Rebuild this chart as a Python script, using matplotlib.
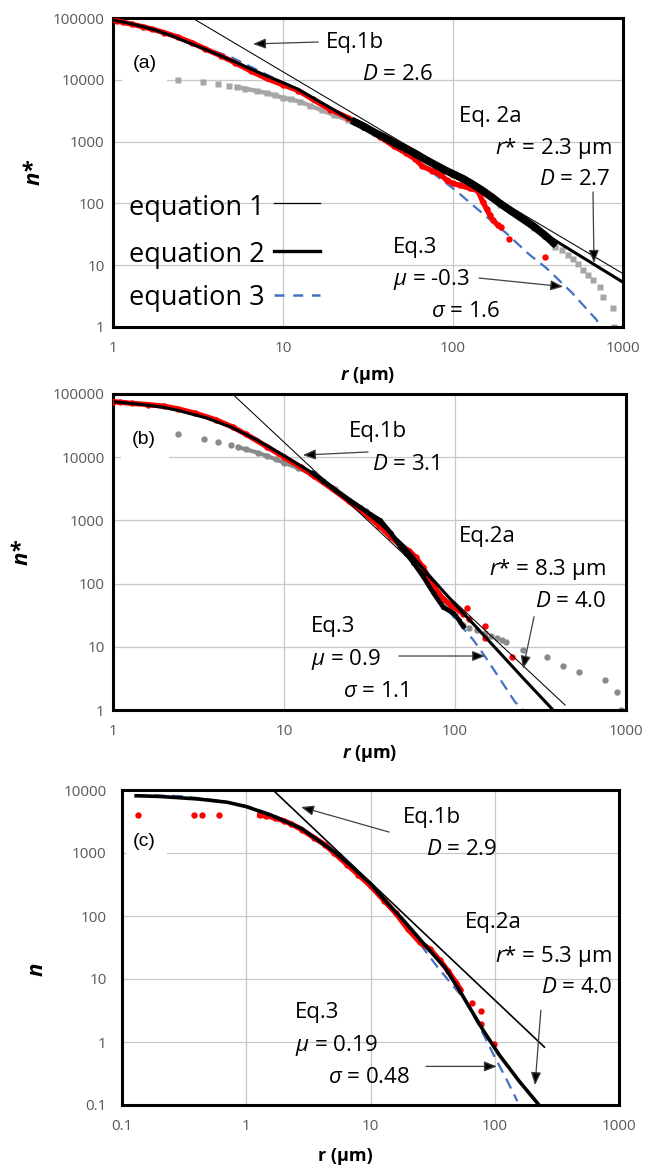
import matplotlib
matplotlib.use('Agg')
import matplotlib.pyplot as plt
from matplotlib.patches import Rectangle

plt.rcParams['font.family'] = ['Open Sans', 'DejaVu Sans']
plt.rcParams['mathtext.fontset'] = 'custom'
plt.rcParams['mathtext.rm'] = 'Open Sans'
plt.rcParams['mathtext.it'] = 'Open Sans:italic'
plt.rcParams['mathtext.bf'] = 'Open Sans:bold'
plt.rcParams['mathtext.bfit'] = 'Open Sans:italic:bold'

# ---------- panel (a) ----------
eq1_a_r = [2.93, 1000]
eq1_a_n = [100000, 7.3]
eq2_a_r = [1.02, 1.3, 1.7, 2.2, 2.65, 3.5, 5.2, 7.5, 10, 12.3, 17, 26.5, 53, 100, 189, 400, 1000]
eq2_a_n = [92000, 80000, 66000, 52000, 42000, 31000, 19600, 12500, 9000, 7000, 4200, 2075, 770, 300, 98, 25, 5.3]
eq3_a_r = [1, 2, 5, 10, 20, 40, 60, 80, 100, 110, 150, 207, 280, 356, 500, 700, 735]
eq3_a_n = [95000, 58000, 23000, 9000, 3100, 1100, 520, 280, 175, 141, 68, 32.5, 15, 8.9, 3.6, 1.3, 1.0]
red_a_r = [1.0, 1.05, 1.15, 1.3, 1.5, 1.7, 2.0, 2.4, 2.9, 3.5, 4.3, 5.2, 6.5, 8, 10, 12.3, 15, 19, 24,
           30, 37, 45, 53, 60, 66, 75, 85, 92, 100, 110, 126, 140, 150, 158, 165, 172, 183, 191]
red_a_n = [95000, 90000, 85000, 79000, 72000, 66000, 58000, 49000, 40000, 31500, 24500, 19000, 13800,
           10500, 8300, 6700, 4800, 3300, 2450, 1750, 1200, 840, 650, 520, 400, 340, 290, 235, 210, 195,
           175, 160, 105, 80, 64, 53, 45, 41]
red_a_sparse_r = [214, 348]
red_a_sparse_n = [27, 13.8]
black_a_r = [26.5, 30, 35, 40, 47, 53, 60, 70, 80, 90, 100, 115, 130, 150, 170, 189, 220, 260, 300, 350, 390]
black_a_n = [2075, 1750, 1380, 1150, 900, 770, 640, 500, 410, 345, 300, 250, 205, 160, 125, 100, 75, 55,
             42, 30, 23]
gray_a_r = [2.4, 3.4, 4.15, 4.8, 5.35, 6, 7, 8, 9, 10, 11.2, 12.6, 14.5, 17, 20, 24, 30, 40, 60, 100,
            189, 300, 398, 436, 477, 510, 546, 584, 625, 669, 732, 766, 870, 885]
gray_a_n = [10000, 9100, 8500, 7900, 7600, 7200, 6600, 6100, 5600, 5100, 4800, 4420, 3800, 3200, 2700,
            2250, 1750, 1150, 620, 290, 95, 40, 19.5, 17.4, 14.5, 12.8, 10.6, 8.3, 6.9, 5.7, 4.5, 3.1,
            2.0, 1.0]

# ---------- panel (b) ----------
eq1_b_r = [5.0, 440]
eq1_b_n = [100000, 1.2]
eq2_b_r = [1.03, 1.5, 2.0, 2.4, 3.5, 4.9, 7, 10, 14.7, 20, 28, 37, 50, 62, 80, 100, 130, 167, 250, 367, 380]
eq2_b_n = [75000, 68000, 61000, 55000, 42000, 30000, 18500, 10600, 5600, 3000, 1600, 870, 400, 200, 92,
           47, 22, 10.5, 3.2, 1.06, 0.95]
eq3_b_r = [1, 2, 4, 7, 10, 15, 20, 30, 45, 60, 75, 85.5, 100, 128, 150, 183, 224, 255]
eq3_b_n = [75000, 62000, 40000, 19500, 10500, 5200, 3000, 1300, 480, 190, 80, 46, 28, 12.8, 7, 3.1, 1.35, 0.95]
red_b_r = [1.0, 1.1, 1.3, 1.6, 2.0, 2.4, 3.0, 4.0, 5.0, 6.0, 8.0, 10, 12.5, 15, 19, 24, 30, 36, 42, 48,
           54, 59, 65, 75, 85, 95, 105, 112]
red_b_n = [76000, 74000, 71000, 68000, 64000, 58000, 50000, 39000, 30000, 23000, 14500, 10000, 7000,
           5000, 3200, 2000, 1250, 820, 550, 400, 330, 260, 180, 89, 58, 45, 38, 33]
red_b_sparse_r = [117, 120, 150, 150, 214]
red_b_sparse_n = [40.5, 28, 21, 13.6, 7.0]
black_b_r = [14.7, 17, 20, 24, 28, 32, 36.6, 42, 47.7, 52, 57, 65, 75, 85.5, 98, 105, 112]
black_b_n = [5600, 4200, 3000, 2100, 1600, 1250, 1000, 640, 390, 295, 215, 130, 70, 42, 34, 27, 21]
gray_b_r = [2.4, 3.4, 4.1, 4.9, 5.4, 6.0, 7.0, 8.0, 9.0, 10, 12, 14.3, 17, 20, 30, 50, 80, 100, 112, 120,
            134, 150, 163, 175, 188, 200, 251, 344, 430, 530, 754, 883, 930]
gray_b_n = [23500, 19500, 17700, 15600, 14400, 13300, 11800, 10400, 9200, 8200, 6800, 5500, 4200, 3100,
            1400, 360, 70, 32, 22, 19.6, 18.4, 16.5, 15, 13.6, 12.8, 12, 8.9, 7.0, 5.0, 4.0, 3.0, 1.95, 1.0]

# ---------- panel (c) ----------
eq1_c_r = [1.64, 251]
eq1_c_n = [10000, 0.83]
eq2_c_r = [0.13, 0.2, 0.41, 0.7, 1.0, 1.58, 2.77, 5.1, 7, 10, 12.9, 18, 28, 40, 52, 80, 109, 157, 227]
eq2_c_n = [8100, 7900, 7200, 6400, 5450, 4000, 2460, 1050, 620, 325, 182, 90, 33, 15, 6.6, 1.58, 0.62,
           0.24, 0.1]
eq3_c_r = [0.13, 0.3, 0.6, 1.0, 1.6, 2.8, 5.1, 10, 20, 35, 57, 75, 99, 125, 152]
eq3_c_n = [8300, 8000, 6800, 5600, 4100, 2500, 1050, 320, 65, 15, 4.75, 1.8, 0.6, 0.25, 0.115]
red_c_r = [1.28, 1.45, 1.7, 2.0, 2.3, 2.8, 3.5, 4.3, 5.1, 6.5, 8, 10, 12.9, 16, 20, 25, 30, 36, 42, 49, 53]
red_c_n = [4000, 3900, 3600, 3250, 2900, 2350, 1750, 1350, 1000, 650, 450, 300, 175, 110, 62, 38, 30,
           20, 13.5, 8.7, 6.8]
red_c_sparse_r = [0.134, 0.38, 0.44, 0.6, 66, 77.5, 77.5, 98]
red_c_sparse_n = [4000, 4000, 4000, 4000, 4.2, 3.1, 1.9, 0.93]

ticks_r = [1, 10, 100, 1000]
ticks_n = [1, 10, 100, 1000, 10000, 100000]
ticks_r_c = [0.1, 1, 10, 100, 1000]
ticks_n_c = [0.1, 1, 10, 100, 1000, 10000]

BLUE = '#4472c4'
ANN = 16


def setup(ax, xt, yt, ypad):
    ax.set_xscale('log')
    ax.set_yscale('log')
    ax.set_xlim(xt[0], xt[-1])
    ax.set_ylim(yt[0], yt[-1])
    ax.set_xticks(xt)
    ax.set_xticklabels([f'{t:g}' for t in xt])
    ax.set_yticks(yt)
    ax.set_yticklabels([f'{t:g}' for t in yt])
    ax.minorticks_off()
    ax.grid(True, color='#c8c8c8', lw=0.9)
    ax.set_axisbelow(True)
    for s in ax.spines.values():
        s.set_linewidth(2.2)
        s.set_color('black')
    ax.tick_params(length=0, labelsize=11, labelcolor='#595959')
    ax.tick_params(axis='x', pad=10)
    ax.tick_params(axis='y', pad=ypad)


def arrow(ax, tail, tip):
    ax.annotate('', xy=tip, xytext=tail,
                arrowprops=dict(arrowstyle='-|>,head_length=0.55,head_width=0.22', lw=0.9,
                                ec='#404040', fc='black', shrinkA=0, shrinkB=0, mutation_scale=14),
                zorder=6)


def label_box(ax, x0, y0, w, h, txt, tx, ty):
    ax.add_patch(Rectangle((x0, y0), w, h, transform=ax.transAxes, fc='white', ec='none', zorder=1))
    ax.text(tx, ty, txt, transform=ax.transAxes, fontsize=14, family='Liberation Sans', va='baseline',
            zorder=6)


def texts(ax, items):
    for txt, x, y, ha in items:
        ax.text(x, y, txt, transform=ax.transAxes, fontsize=ANN, ha=ha, va='baseline', zorder=6)


fig = plt.figure(figsize=(6.56, 11.71), dpi=100)

# (a)
ax = fig.add_axes([113 / 656, 1 - 327 / 1171, 510 / 656, 309 / 1171])
setup(ax, ticks_r, ticks_n, 6)
# densely packed grey squares read as a band
ax.plot(gray_a_r[4:22], gray_a_n[4:22], color='#a6a6a6', lw=3.2, zorder=2)
ax.plot(gray_a_r, gray_a_n, ls='none', marker='s', ms=4.4, color='#a6a6a6', mec='none', zorder=2)
ax.plot(eq3_a_r, eq3_a_n, color=BLUE, lw=1.6, dashes=(5, 3), zorder=2.5)
ax.plot(red_a_r, red_a_n, color='red', lw=3.8, marker='o', ms=4.6, mec='none', zorder=3)
ax.plot(red_a_sparse_r, red_a_sparse_n, ls='none', marker='o', ms=4.6, color='red', mec='none', zorder=3)
ax.plot(black_a_r, black_a_n, color='black', lw=5.5, marker='o', ms=5, mec='none', zorder=4)
ax.plot(eq2_a_r, eq2_a_n, color='black', lw=2.2, zorder=4.5)
ax.plot(eq1_a_r, eq1_a_n, color='black', lw=0.75, zorder=5)
label_box(ax, 0.018, 0.767, 0.088, 0.146, '(a)', 0.039, 0.837)
texts(ax, [('Eq.1b', 0.418, 0.902, 'left'), ('$D$ = 2.6', 0.488, 0.799, 'left'),
           ('Eq. 2a', 0.678, 0.664, 'left'), ('$r$* = 2.3 µm', 0.978, 0.560, 'right'),
           ('$D$ = 2.7', 0.976, 0.459, 'right'), ('Eq.3', 0.549, 0.241, 'left'),
           (r'$\mu$ = -0.3', 0.549, 0.136, 'left'), (r'$\sigma$ = 1.6', 0.624, 0.0334, 'left')])
arrow(ax, (16.1, 40900), (6.66, 38000))
arrow(ax, (666, 153), (675, 10.9))
arrow(ax, (142, 6.2), (445, 4.5))
# legend (text first, sample line after)
for lab, ty, ly, kw in [('equation 1', 0.362, 0.402, dict(color='black', lw=0.9)),
                        ('equation 2', 0.211, 0.247, dict(color='black', lw=2.4)),
                        ('equation 3', 0.071, 0.104, dict(color=BLUE, lw=1.8, dashes=(4, 3.5)))]:
    ax.text(0.031, ty, lab, transform=ax.transAxes, fontsize=19.5, va='baseline', zorder=6)
    ax.plot([0.316, 0.406], [ly, ly], transform=ax.transAxes, zorder=6, **kw)
ax.set_ylabel('n*', fontsize=16, fontweight='bold', fontstyle='italic')
ax.yaxis.set_label_coords(-0.135, 0.5)
ax.set_xlabel(r'$\mathbfit{r}$ (µm)', fontsize=13, fontweight='bold')
ax.xaxis.set_label_coords(0.5, -0.123)

# (b)
ax = fig.add_axes([113 / 656, 1 - 710 / 1171, 513 / 656, 316 / 1171])
setup(ax, ticks_r, ticks_n, 6)
ax.plot(gray_b_r[4:18], gray_b_n[4:18], color='#8a8a8a', lw=3.0, zorder=2)
ax.plot(gray_b_r, gray_b_n, ls='none', marker='o', ms=4.6, color='#8a8a8a', mec='none', zorder=2)
ax.plot(eq3_b_r, eq3_b_n, color=BLUE, lw=1.6, dashes=(5, 3), zorder=2.5)
ax.plot(red_b_r, red_b_n, color='red', lw=3.8, marker='o', ms=4.6, mec='none', zorder=3)
ax.plot(red_b_sparse_r, red_b_sparse_n, ls='none', marker='o', ms=4.6, color='red', mec='none', zorder=3)
ax.plot(black_b_r, black_b_n, color='black', lw=3.3, marker='o', ms=3.5, mec='none', zorder=4)
ax.plot(eq2_b_r, eq2_b_n, color='black', lw=2.2, zorder=4.5)
ax.plot(eq1_b_r, eq1_b_n, color='black', lw=0.75, zorder=5)
label_box(ax, 0.016, 0.775, 0.093, 0.143, '(b)', 0.037, 0.842)
texts(ax, [('Eq.1b', 0.460, 0.863, 'left'), ('$D$ = 3.1', 0.505, 0.761, 'left'),
           ('Eq.2a', 0.674, 0.533, 'left'), ('$r$* = 8.3 µm', 0.961, 0.427, 'right'),
           ('$D$ = 4.0', 0.961, 0.327, 'right'), ('Eq.3', 0.386, 0.246, 'left'),
           (r'$\mu$ = 0.9', 0.386, 0.142, 'left'), (r'$\sigma$ = 1.1', 0.448, 0.042, 'left')])
arrow(ax, (31, 12100), (12.9, 10800))
arrow(ax, (290, 30), (250, 4.5))
arrow(ax, (47, 7.15), (150, 7.15))
ax.set_ylabel('n*', fontsize=16, fontweight='bold', fontstyle='italic')
ax.yaxis.set_label_coords(-0.156, 0.5)
ax.set_xlabel(r'$\mathbfit{r}$ (µm)', fontsize=13, fontweight='bold')
ax.xaxis.set_label_coords(0.5, -0.104)

# (c)
ax = fig.add_axes([122 / 656, 1 - 1105 / 1171, 497 / 656, 315 / 1171])
setup(ax, ticks_r_c, ticks_n_c, 11)
ax.plot(eq3_c_r, eq3_c_n, color=BLUE, lw=1.6, dashes=(5, 3), zorder=2.5)
ax.plot(red_c_r, red_c_n, color='red', lw=3.8, marker='o', ms=4.6, mec='none', zorder=3)
ax.plot(red_c_sparse_r, red_c_sparse_n, ls='none', marker='o', ms=4.6, color='red', mec='none', zorder=3)
ax.plot(eq2_c_r, eq2_c_n, color='black', lw=2.6, zorder=4.5)
ax.plot(eq1_c_r, eq1_c_n, color='black', lw=1.2, zorder=5)
label_box(ax, 0.010, 0.746, 0.081, 0.133, '(c)', 0.022, 0.822)
texts(ax, [('Eq.1b', 0.565, 0.894, 'left'), ('$D$ = 2.9', 0.612, 0.794, 'left'),
           ('Eq.2a', 0.690, 0.561, 'left'), ('$r$* = 5.3 µm', 0.986, 0.455, 'right'),
           ('$D$ = 4.0', 0.986, 0.356, 'right'), ('Eq.3', 0.348, 0.275, 'left'),
           (r'$\mu$ = 0.19', 0.348, 0.172, 'left'), (r'$\sigma$ = 0.48', 0.414, 0.069, 'left')])
arrow(ax, (14.1, 2150), (2.76, 5370))
arrow(ax, (235, 3.2), (211, 0.207))
arrow(ax, (28, 0.41), (104, 0.41))
ax.set_ylabel('n', fontsize=16, fontweight='bold', fontstyle='italic')
ax.yaxis.set_label_coords(-0.149, 0.43)
ax.set_xlabel('r (µm)', fontsize=13, fontweight='bold')
ax.xaxis.set_label_coords(0.45, -0.133)

fig.savefig('out.png', dpi=100)
